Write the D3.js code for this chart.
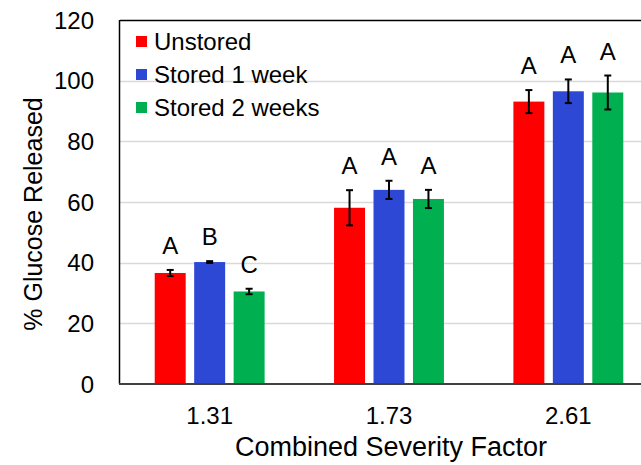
<!DOCTYPE html>
<html>
<head>
<meta charset="utf-8">
<script src="https://cdn.jsdelivr.net/npm/d3@7"></script>
<style>
    body { margin: 0; background: #fff; }
    text { font-family: "Liberation Sans", Arial, sans-serif; fill: #000; }
</style>
</head>
<body>
<svg width="641" height="465"></svg>
<script>
var categories = ['1.31', '1.73', '2.61'];
var seriesNames = ['Unstored', 'Stored 1 week', 'Stored 2 weeks'];
var colors = ['#ff0000', '#2c48d4', '#00b050'];
var unstored = [36.6, 58.1, 93.1];
var stored1 = [40.2, 64.0, 96.5];
var stored2 = [30.5, 61.0, 96.1];
var errUnstored = [1.0, 5.8, 3.8];
var errStored1 = [0.3, 3.0, 3.9];
var errStored2 = [0.9, 3.0, 5.6];
var lettersUnstored = ['A', 'A', 'A'];
var lettersStored1 = ['B', 'A', 'A'];
var lettersStored2 = ['C', 'A', 'A'];
var yTicks = [0, 20, 40, 60, 80, 100, 120];

var svg = d3.select('svg');
var plotLeft = 120, plotTop = 20, plotRight = 658, plotBottom = 384;

var values = [unstored, stored1, stored2];
var errs = [errUnstored, errStored1, errStored2];
var letters = [lettersUnstored, lettersStored1, lettersStored2];

var x = d3.scaleBand()
    .domain(categories)
    .range([plotLeft, plotRight])
    .paddingInner(0)
    .paddingOuter(0);

var xs = d3.scaleBand()
    .domain(seriesNames)
    .range([0, x.bandwidth()])
    .paddingInner(0.215)
    .paddingOuter(0.88);

var y = d3.scaleLinear()
    .domain([0, 120])
    .range([plotBottom, plotTop]);

// gridlines
svg.append('g')
    .selectAll('line')
    .data(yTicks.filter(function (d) { return d > 0 && d < 120; }))
    .enter()
    .append('line')
        .attr('x1', plotLeft)
        .attr('x2', plotRight)
        .attr('y1', function (d) { return Math.round(y(d)) + 0.5; })
        .attr('y2', function (d) { return Math.round(y(d)) + 0.5; })
        .attr('stroke', '#d9d9d9')
        .attr('stroke-width', 1.5)
;

var rows = [];
seriesNames.forEach(function (s, i) {
    categories.forEach(function (c, j) {
        rows.push({series: s, si: i, cat: c, v: values[i][j], e: errs[i][j], letter: letters[i][j]});
    });
});

function cx(d) {
    return x(d.cat) + xs(d.series) + xs.bandwidth() / 2;
}

var g = svg.append('g');

g.selectAll('rect')
    .data(rows)
    .enter()
    .append('rect')
        .attr('x', function (d) { return x(d.cat) + xs(d.series); })
        .attr('y', function (d) { return y(d.v); })
        .attr('width', xs.bandwidth())
        .attr('height', function (d) { return plotBottom - y(d.v); })
        .attr('fill', function (d) { return colors[d.si]; })
;

// error bars
var eb = g.selectAll('.err')
    .data(rows)
    .enter()
    .append('g')
        .attr('class', 'err')
        .attr('stroke', '#000')
        .attr('stroke-width', 2)
;
eb.append('line')
    .attr('x1', cx)
    .attr('x2', cx)
    .attr('y1', function (d) { return y(d.v + d.e); })
    .attr('y2', function (d) { return y(d.v - d.e); })
;
eb.selectAll('.cap')
    .data(function (d) { return [d.v + d.e, d.v - d.e].map(function (t) { return {d: d, t: t}; }); })
    .enter()
    .append('line')
        .attr('x1', function (o) { return cx(o.d) - 3.5; })
        .attr('x2', function (o) { return cx(o.d) + 3.5; })
        .attr('y1', function (o) { return y(o.t); })
        .attr('y2', function (o) { return y(o.t); })
;

// significance letters
g.selectAll('.letter')
    .data(rows)
    .enter()
    .append('text')
        .attr('class', 'letter')
        .attr('x', cx)
        .attr('y', function (d) { return y(d.v + d.e) - 16; })
        .attr('text-anchor', 'middle')
        .style('font-size', '24px')
        .text(function (d) { return d.letter; })
;

// frame
svg.append('line')
    .attr('x1', plotLeft).attr('x2', plotRight)
    .attr('y1', plotTop + 0.5).attr('y2', plotTop + 0.5)
    .attr('stroke', '#000').attr('stroke-width', 1.5);
svg.append('line')
    .attr('x1', plotLeft - 0.5).attr('x2', plotLeft - 0.5)
    .attr('y1', plotTop).attr('y2', plotBottom)
    .attr('stroke', '#000').attr('stroke-width', 1.5);
svg.append('line')
    .attr('x1', plotLeft - 1).attr('x2', plotRight)
    .attr('y1', plotBottom).attr('y2', plotBottom)
    .attr('stroke', '#404040').attr('stroke-width', 2);

// y axis labels
svg.append('g')
    .selectAll('text')
    .data(yTicks)
    .enter()
    .append('text')
        .attr('x', 94)
        .attr('y', function (d) { return y(d) + 8.5; })
        .attr('text-anchor', 'end')
        .style('font-size', '24px')
        .text(function (d) { return d; })
;

// x axis labels
svg.append('g')
    .selectAll('text')
    .data(categories)
    .enter()
    .append('text')
        .attr('x', function (d) { return x(d) + x.bandwidth() / 2; })
        .attr('y', 424)
        .attr('text-anchor', 'middle')
        .style('font-size', '24px')
        .text(function (d) { return d; })
;

svg.append('text')
    .attr('x', 391)
    .attr('y', 456)
    .attr('text-anchor', 'middle')
    .style('font-size', '27px')
    .text('Combined Severity Factor');

svg.append('text')
    .attr('transform', 'translate(42,214) rotate(-90)')
    .attr('text-anchor', 'middle')
    .style('font-size', '25px')
    .text('% Glucose Released');

// legend
var legend = svg.append('g')
    .selectAll('g')
    .data(seriesNames)
    .enter()
    .append('g')
        .attr('transform', function (d, i) { return 'translate(136,' + (41.5 + i * 33) + ')'; })
;
legend.append('rect')
    .attr('x', 0).attr('y', -5.5)
    .attr('width', 11).attr('height', 11)
    .attr('fill', function (d, i) { return colors[i]; });
legend.append('text')
    .attr('x', 18)
    .attr('y', 8.5)
    .style('font-size', '24px')
    .text(function (d) { return d; });
</script>
</body>
</html>
